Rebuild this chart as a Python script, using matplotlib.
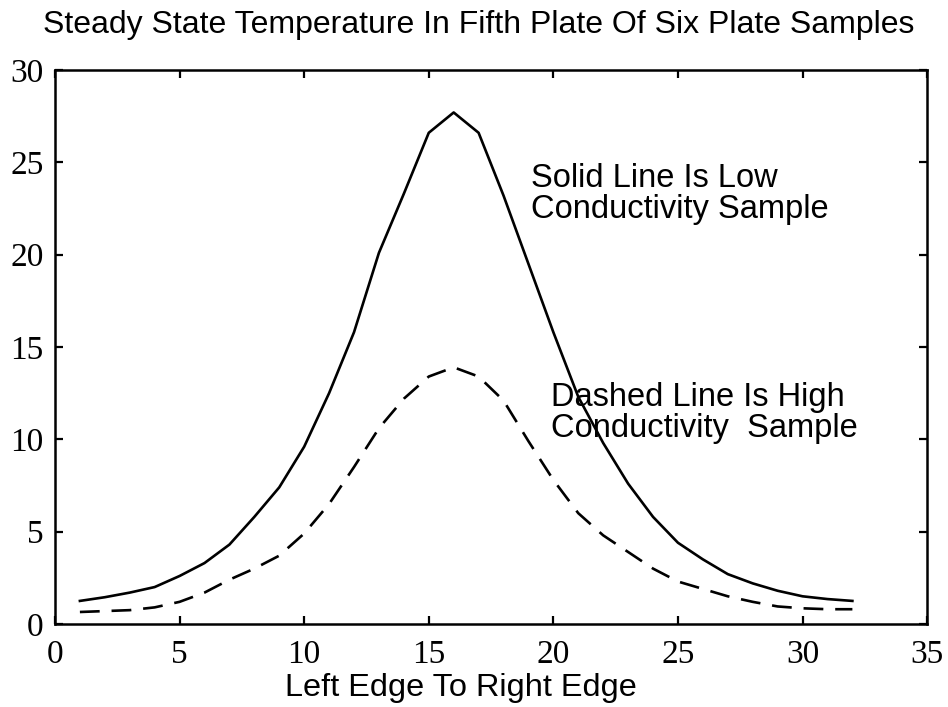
import matplotlib
matplotlib.use('Agg')
import matplotlib.pyplot as plt
import numpy as np

# positions across the plate
x = list(range(1, 33))

# low conductivity sample (solid)
low_k = [1.25, 1.45, 1.7, 2.0, 2.6, 3.3, 4.3, 5.8, 7.4, 9.6,
         12.5, 15.8, 20.1, 23.3, 26.6, 27.7, 26.6, 23.2, 19.5, 15.8,
         12.3, 9.8, 7.6, 5.8, 4.4, 3.5, 2.7, 2.2, 1.8, 1.5,
         1.35, 1.25]

# high conductivity sample (dashed)
high_k = [0.65, 0.7, 0.75, 0.9, 1.2, 1.7, 2.4, 3.0, 3.7, 4.9,
          6.5, 8.5, 10.6, 12.2, 13.4, 13.9, 13.4, 12.1, 9.9, 7.8,
          6.0, 4.8, 3.9, 3.0, 2.3, 1.9, 1.5, 1.2, 0.95, 0.85,
          0.8, 0.8]

xticks = [0, 5, 10, 15, 20, 25, 30, 35]
yticks = [0, 5, 10, 15, 20, 25, 30]

title = 'Steady State Temperature In Fifth Plate Of Six Plate Samples'
xlabel = 'Left Edge To Right Edge'
note_solid = 'Solid Line Is Low\nConductivity Sample'
note_dashed = 'Dashed Line Is High\nConductivity  Sample'

sans = 'Liberation Sans'
serif = 'Liberation Serif'

fig = plt.figure(figsize=(9.48, 7.07), dpi=100)
ax = fig.add_axes([0.058, 0.1174, 0.920, 0.7836])

ax.plot(x, low_k, color='black', lw=1.9)
ax.plot(x, high_k, color='black', lw=1.9, dashes=(7.5, 4.5))

ax.set_xlim(0, 35)
ax.set_ylim(0, 30)
ax.set_xticks(xticks)
ax.set_yticks(yticks)
ax.tick_params(direction='in', length=6, width=1.6, top=True, right=True,
               labelsize=24)
ax.tick_params(axis='x', pad=11)
ax.tick_params(axis='y', pad=8)
for lab in ax.get_xticklabels() + ax.get_yticklabels():
    lab.set_fontfamily(serif)
for s in ax.spines.values():
    s.set_linewidth(1.8)

ax.text(19.1, 23.3, note_solid, fontsize=23.5, family=sans, va='center',
        ha='left', linespacing=1.0)
ax.text(19.9, 11.4, note_dashed, fontsize=23.5, family=sans, va='center',
        ha='left', linespacing=1.0)

fig.text(0.505, 0.953, title, fontsize=23, family=sans, ha='center',
         va='baseline')
fig.text(0.486, 0.015, xlabel, fontsize=23.4, family=sans, ha='center',
         va='baseline')

fig.savefig('out.png', dpi=100)
